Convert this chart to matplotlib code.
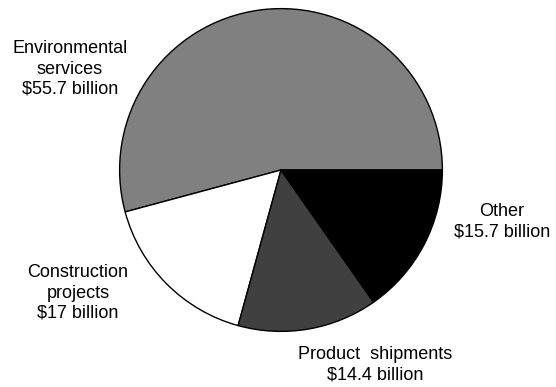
import matplotlib.pyplot as plt

plt.rcParams['font.family'] = ['Liberation Sans', 'DejaVu Sans']

labels = ['Environmental\nservices\n$55.7 billion',
          'Construction\nprojects\n$17 billion',
          'Product  shipments\n$14.4 billion',
          'Other\n$15.7 billion']
values = [55.7, 17, 14.4, 15.7]
colors = ['#808080', '#ffffff', '#404040', '#000000']

fig = plt.figure(figsize=(5.56, 3.87), dpi=100)
ax = fig.add_axes([118 / 556, 54 / 387, 326 / 556, 326 / 387])
ax.pie(values, colors=colors, startangle=0, counterclock=True,
       wedgeprops={'edgecolor': 'black', 'linewidth': 1})
ax.set_xlim(-1.01, 1.01)
ax.set_ylim(-1.01, 1.01)
ax.set_aspect('equal')
ax.axis('off')

# label positions in pixels (x center, y of middle)
label_pos = [(70, 69), (78, 293), (375, 365), (502, 222)]
for lab, (x, y) in zip(labels, label_pos):
    fig.text(x / 556, 1 - y / 387, lab, ha='center', va='center',
             fontsize=13, linespacing=1.25)

fig.savefig('out.png', dpi=100)
